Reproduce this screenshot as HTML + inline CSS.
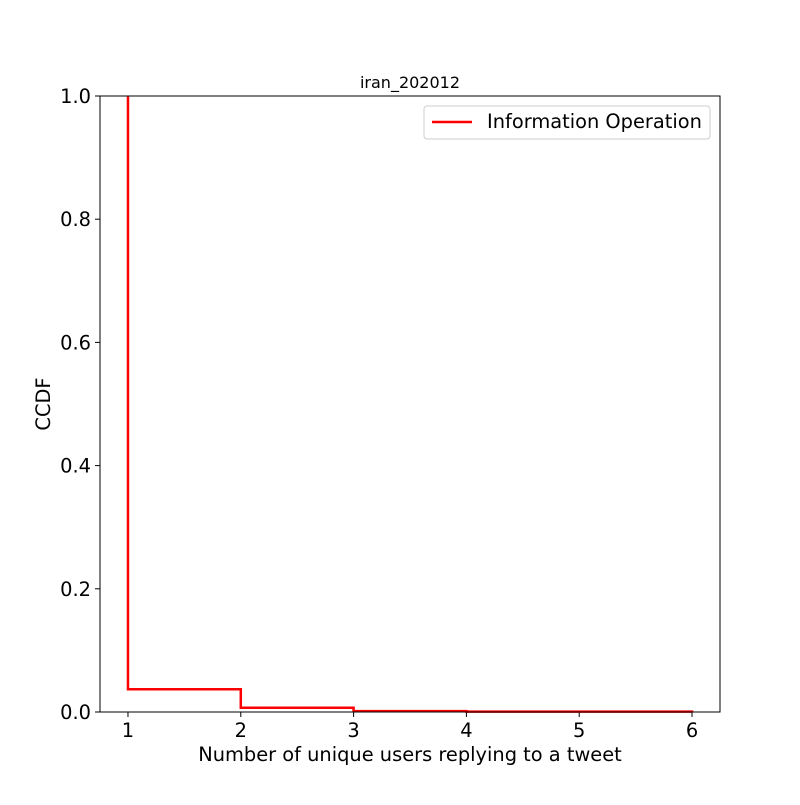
<!DOCTYPE html>
<html><head><meta charset="utf-8"><style>
body{margin:0;background:#fff}
text{font-family:"DejaVu Sans","Liberation Sans",sans-serif}
</style></head><body>
<svg id="chart" width="800" height="800" xmlns="http://www.w3.org/2000/svg">
<rect width="800" height="800" fill="#fff"/>
<text x="410" y="88" font-size="16" text-anchor="middle">iran_202012</text>
<g id="plot"></g>
<rect x="100" y="96" width="620" height="616" fill="none" stroke="#000" stroke-width="1"/>
<text x="410" y="761" font-size="19.4" text-anchor="middle">Number of unique users replying to a tweet</text>
<text transform="translate(50,404) rotate(-90)" font-size="19.4" text-anchor="middle">CCDF</text>
<g>
<rect x="424" y="106" width="286" height="33" rx="3" fill="#fff" stroke="#ccc"/>
<line x1="432" y1="122" x2="472" y2="122" stroke="red" stroke-width="2.5"/>
<text x="487" y="128" font-size="19.4">Information Operation</text>
</g>
</svg>
<script>
const stepX = [1, 2, 3, 4, 5, 6];
const stepY = [0.037, 0.007, 0.0015, 0.0007, 0.0007, 0];
const xTicks = [1, 2, 3, 4, 5, 6];
const yTicks = [0, 0.2, 0.4, 0.6, 0.8, 1.0];
const yTickLabels = ["0.0", "0.2", "0.4", "0.6", "0.8", "1.0"];
const NS = "http://www.w3.org/2000/svg";
const g = document.getElementById("plot");
const xS = v => 100 + (v - 0.752) / (6.248 - 0.752) * 620;
const yS = v => 712 - v * 616;
function mk(tag, attrs){const e=document.createElementNS(NS,tag);for(const k in attrs)e.setAttribute(k,attrs[k]);g.appendChild(e);return e;}
xTicks.forEach((t,i)=>{
  const l=mk("line",{x1:xS(t),x2:xS(t),y1:712,y2:717,stroke:"#000"});
  
  
  const tx=mk("text",{x:xS(t),y:737,"font-size":19.4,"text-anchor":"middle"});
  tx.textContent=String(t);
  
  
});
yTicks.forEach((t,i)=>{
  const l=mk("line",{x1:95,x2:100,y1:yS(t),y2:yS(t),stroke:"#000"});
  
  
  const tx=mk("text",{x:91,y:yS(t)+7,"font-size":19.4,"text-anchor":"end"});
  tx.textContent=yTickLabels[i];
  
  
});
let d=`M${xS(stepX[0])},${yS(1)}`;
for(let i=0;i<stepX.length;i++){
  d+=` L${xS(stepX[i])},${yS(stepY[i])}`;
  if(i<stepX.length-1) d+=` L${xS(stepX[i+1])},${yS(stepY[i])}`;
}
const p=mk("path",{d:d,fill:"none",stroke:"red","stroke-width":2.5});


</script>
</body></html>
